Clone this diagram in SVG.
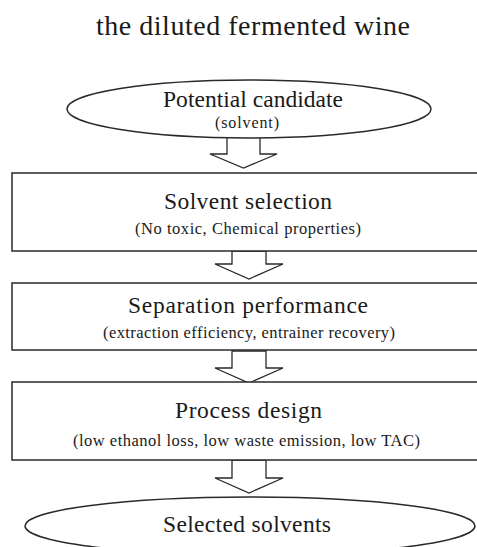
<svg xmlns="http://www.w3.org/2000/svg" width="477" height="547" viewBox="0 0 477 547">
<style>
.shape{fill:#fff;stroke:#2a2a2a;stroke-width:1.5}
.arrow{fill:#fff;stroke:#2a2a2a;stroke-width:1.3;stroke-linejoin:miter}
text{font-family:"Liberation Serif","Times New Roman",serif;fill:#1a1a1a;text-anchor:start}
.h{font-size:23.5px}
.s{font-size:16.5px}
</style>
<rect width="477" height="547" fill="#fff"/>
<text x="96" y="35" style="font-size:28px" textLength="314">the diluted fermented wine</text>
<g id="connectors">
<polygon class="arrow" points="227,136 260,136 260,154 277,154 243.5,168 210,154 227,154"/>
<polygon class="arrow" points="232,251 266,251 266,264 283,264 249,279 215,264 232,264"/>
<polygon class="arrow" points="232,351 266,351 266,368 283,368 249,383 215,368 232,368"/>
<polygon class="arrow" points="232,460 266,460 266,478 283,478 249,493 215,478 232,478"/>
</g>
<g id="potential-candidate">
<ellipse class="shape" cx="249" cy="109" rx="182" ry="29"/>
<text class="h" x="163" y="107" textLength="180">Potential candidate</text>
<text class="s" x="215" y="128" style="font-size:16px" textLength="64">(solvent)</text>
</g>
<g id="solvent-selection">
<rect class="shape" x="12" y="173" width="480" height="78"/>
<text class="h" x="164" y="209" textLength="168">Solvent  selection</text>
<text class="s" x="135" y="234" textLength="226">(No toxic, Chemical  properties)</text>
</g>
<g id="separation-performance">
<rect class="shape" x="12" y="283" width="480" height="67"/>
<text class="h" x="128" y="313" textLength="240">Separation  performance</text>
<text class="s" x="103" y="338" textLength="292">(extraction efficiency, entrainer recovery)</text>
</g>
<g id="process-design">
<rect class="shape" x="12" y="382" width="480" height="78"/>
<text class="h" x="175" y="418" textLength="147">Process design</text>
<text class="s" x="73" y="446" textLength="347">(low ethanol loss, low waste emission, low TAC)</text>
</g>
<g id="selected-solvents">
<ellipse class="shape" cx="250" cy="526" rx="225" ry="29"/>
<text class="h" x="163" y="532" textLength="168">Selected  solvents</text>
</g>
</svg>
